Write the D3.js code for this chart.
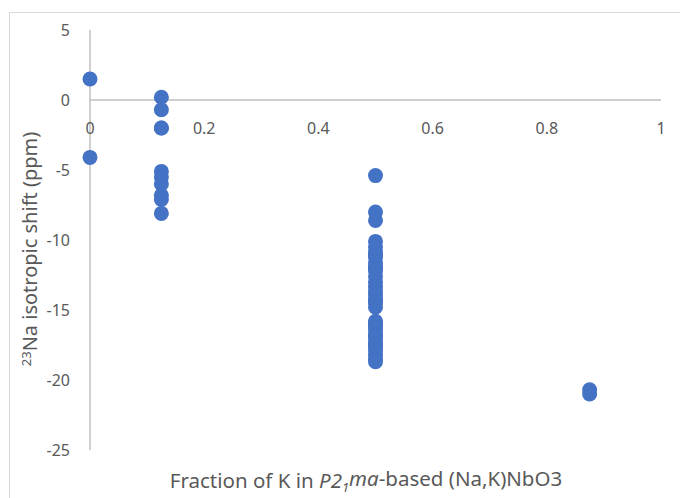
<!DOCTYPE html>
<html>
<head>
<meta charset="utf-8">
<script src="https://cdn.jsdelivr.net/npm/d3@7"></script>
<style>
  html, body { margin: 0; padding: 0; background: #fff; }
  svg text { font-family: "Noto Sans", "Open Sans", sans-serif; fill: #595959; }
</style>
</head>
<body>
<svg id="chart" width="680" height="498"></svg>
<script>
// K fraction of each structure model and its 23Na isotropic shift (ppm)
const fractionK = [
  0, 0,
  0.125, 0.125, 0.125, 0.125, 0.125, 0.125, 0.125, 0.125, 0.125, 0.125,
  0.5, 0.5, 0.5, 0.5, 0.5, 0.5, 0.5, 0.5, 0.5, 0.5, 0.5, 0.5, 0.5, 0.5,
  0.5, 0.5, 0.5, 0.5, 0.5, 0.5, 0.5, 0.5, 0.5, 0.5, 0.5, 0.5, 0.5, 0.5,
  0.5, 0.5, 0.5, 0.5, 0.5, 0.5, 0.5, 0.5,
  0.875, 0.875
];
const isoShift = [
  1.5, -4.1,
  0.2, -0.7, -2.0, -2.0, -5.1, -5.5, -6.0, -6.8, -7.1, -8.1,
  -5.4, -8.0, -8.6, -10.1, -10.5, -10.9, -11.2, -11.6, -11.9, -12.2,
  -12.6, -13.0, -13.3, -13.6, -13.9, -14.2, -14.5, -14.8,
  -15.9, -16.1, -16.4, -16.7, -17.0, -17.3, -17.6, -17.9, -18.2, -18.5,
  -18.7, -16.0, -15.8, -16.9, -17.5, -14.4, -12.0, -11.1,
  -20.7, -21.0
];
const xTicks = [0, 0.2, 0.4, 0.6, 0.8, 1];
const yTicks = [5, 0, -5, -10, -15, -20, -25];

const svg = d3.select("#chart");

// chart frame
svg.append("rect")
  .attr("x", 9.5).attr("y", 12.5)
  .attr("width", 700).attr("height", 500)
  .attr("fill", "none").attr("stroke", "#d9d9d9").attr("stroke-width", 1);

const x = d3.scaleLinear().domain([0, 1]).range([90, 661]);
const y = d3.scaleLinear().domain([-25, 5]).range([450, 30]);

// vertical axis at x = 0
svg.append("line")
  .attr("x1", x(0)).attr("x2", x(0))
  .attr("y1", y(5)).attr("y2", y(-25))
  .attr("stroke", "#bfbfbf").attr("stroke-width", 1.5);

// horizontal axis at y = 0
svg.append("line")
  .attr("x1", x(0)).attr("x2", x(1))
  .attr("y1", y(0)).attr("y2", y(0))
  .attr("stroke", "#bfbfbf").attr("stroke-width", 1.5);

// y tick labels
svg.append("g").selectAll("text")
  .data(yTicks)
  .join("text")
  .attr("x", 70)
  .attr("y", d => y(d))
  .attr("dy", "0.35em")
  .attr("text-anchor", "end")
  .attr("font-size", 16)
  .text(d => d3.format("d")(d).replace("\u2212", "-"));

// x tick labels, below the zero line
svg.append("g").selectAll("text")
  .data(xTicks)
  .join("text")
  .attr("x", d => x(d))
  .attr("y", y(0) + 28)
  .attr("dy", "0.35em")
  .attr("text-anchor", "middle")
  .attr("font-size", 16)
  .text(d => d === 0 || d === 1 ? String(d) : d.toFixed(1));

// points
const pts = fractionK.map((f, i) => ({ f, s: isoShift[i] }));
svg.append("g").selectAll("circle")
  .data(pts)
  .join("circle")
  .attr("cx", d => x(d.f))
  .attr("cy", d => y(d.s))
  .attr("r", 7.5)
  .attr("fill", "#4472c4");

// y axis title
const yt = svg.append("text")
  .attr("transform", "translate(37,249) rotate(-90)")
  .attr("text-anchor", "middle")
  .attr("font-size", 20);
yt.append("tspan").attr("font-size", 13).attr("dy", "-0.45em").text("23");
yt.append("tspan").attr("dy", "0.3em").text("Na isotropic shift (ppm)");

// x axis title
const xt = svg.append("text")
  .attr("x", 366).attr("y", 488)
  .attr("text-anchor", "middle")
  .attr("font-size", 20.5);
xt.append("tspan").text("Fraction of K in ");
xt.append("tspan").attr("font-style", "italic").text("P2");
xt.append("tspan").attr("font-style", "italic").attr("font-size", 13).attr("dy", "0.3em").text("1");
xt.append("tspan").attr("font-style", "italic").attr("dy", "-0.3em").text("ma");
xt.append("tspan").text("-based (Na,K)NbO3");
</script>
</body>
</html>
